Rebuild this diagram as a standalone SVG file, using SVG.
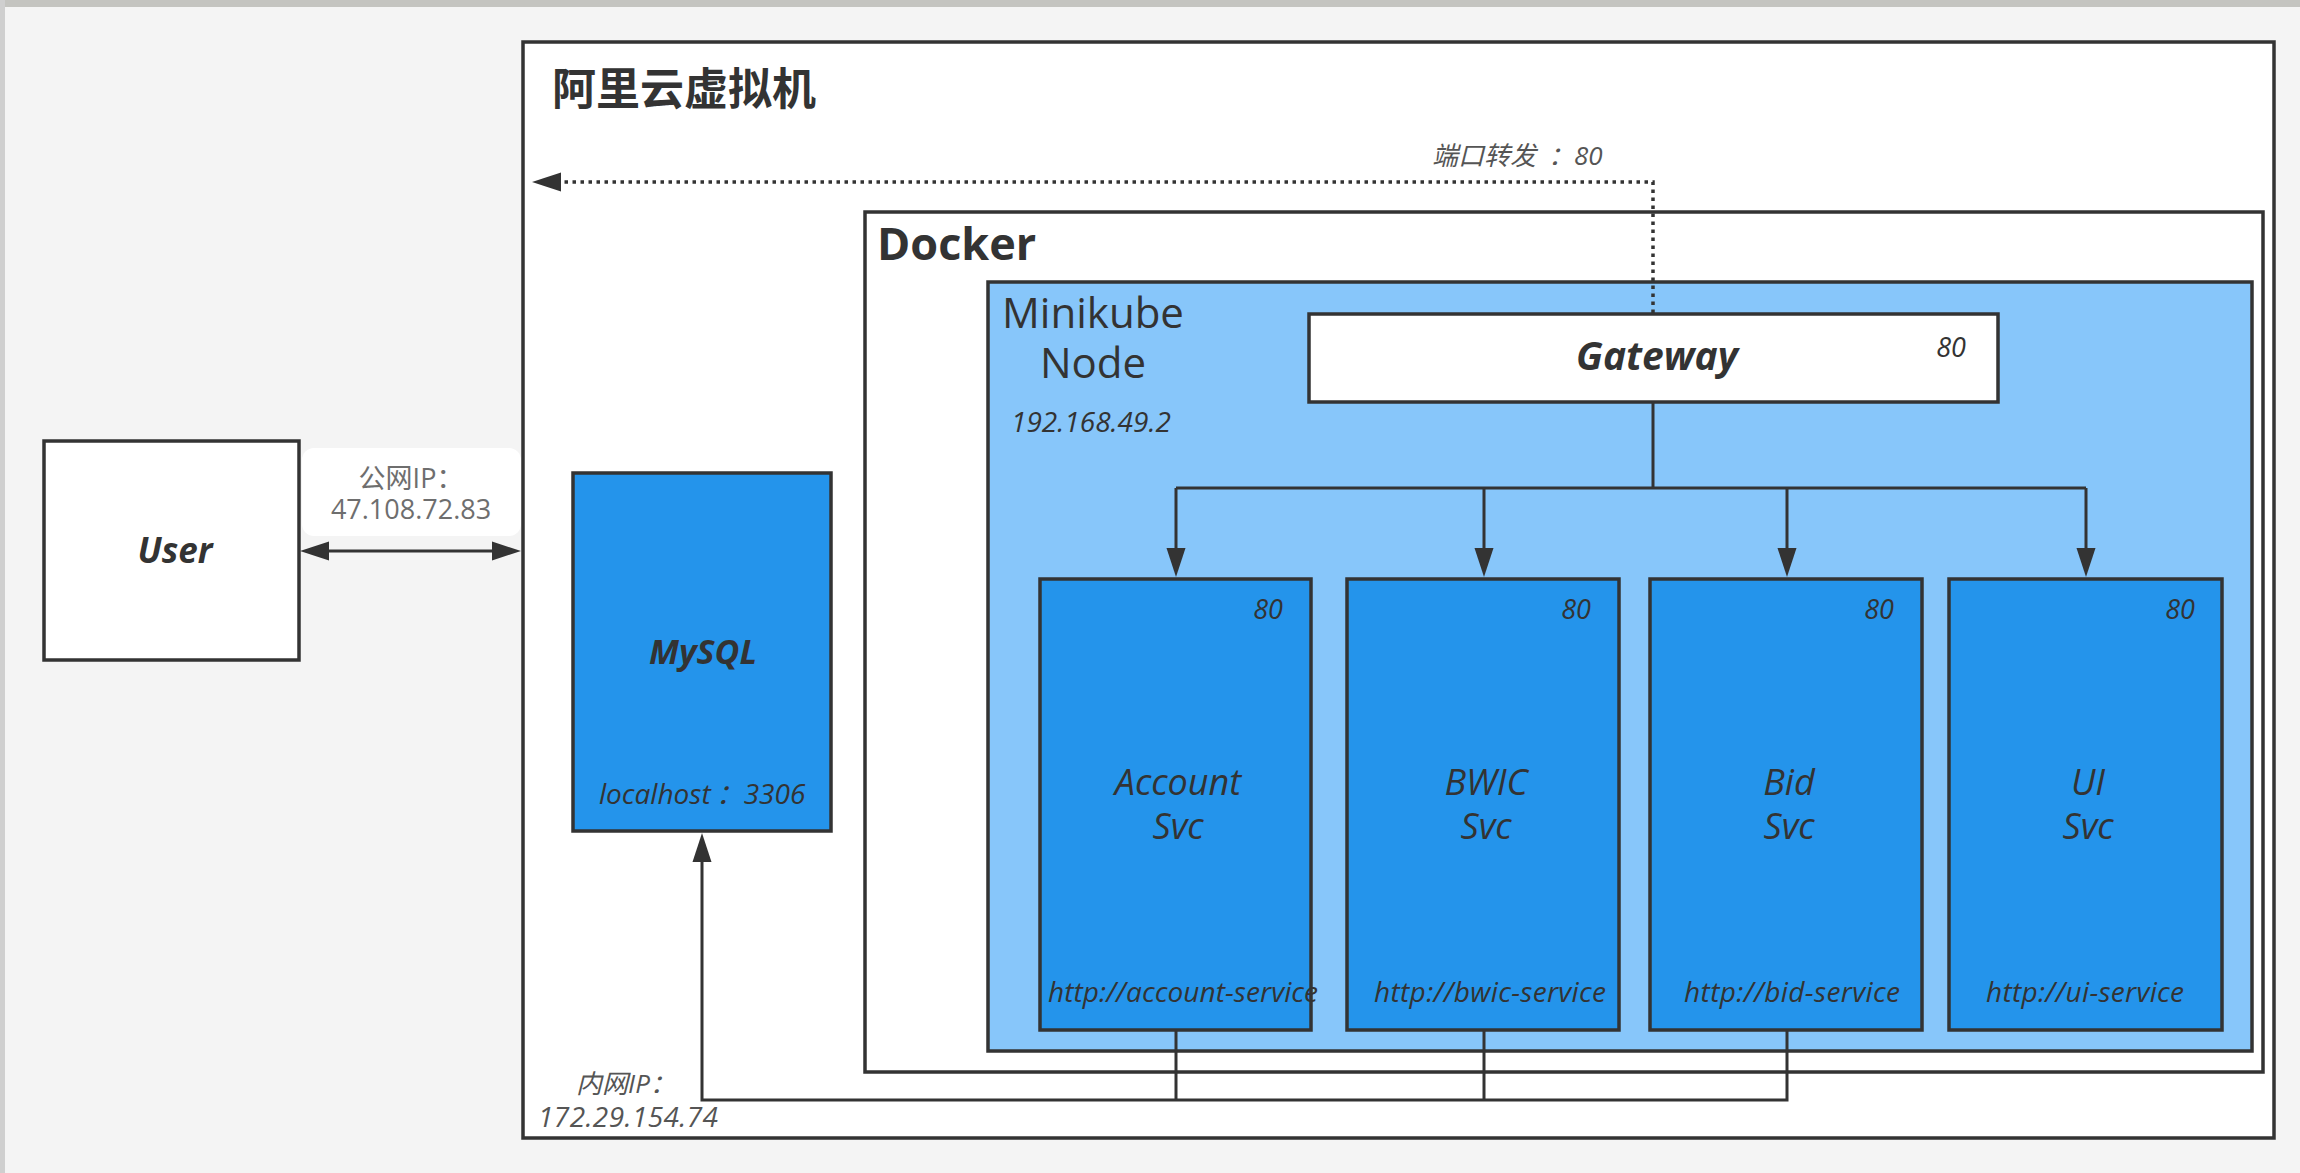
<svg xmlns="http://www.w3.org/2000/svg" width="2300" height="1173" viewBox="0 0 2300 1173">
  <style>
    .box { stroke: #333333; stroke-width: 3.5; }
    .white { fill: #ffffff; }
    .svc { fill: #2494eb; }
    .node { fill: #87c6fa; }
    .line { fill: none; stroke: #333333; stroke-width: 3; }
    .dot { fill: none; stroke: #333333; stroke-width: 3.5; stroke-dasharray: 3.5 4.5; }
    text { font-family: "Open Sans", "Noto Sans CJK SC", sans-serif; fill: #333333; }
    .cjk { font-family: "Noto Sans CJK SC", "Open Sans", sans-serif; }
    .it { font-style: italic; }
    .b { font-weight: bold; }
    .mid { text-anchor: middle; }
    .end { text-anchor: end; }
    .gray { fill: #555555; }
    .lgray { fill: #6e6e6e; }
    .name { font-style: italic; font-size: 36px; text-anchor: middle; }
    .url { font-style: italic; font-size: 28px; text-anchor: middle; }
    .port { font-style: italic; font-size: 27px; text-anchor: end; }
  </style>
  <defs>
    <marker id="arr" markerUnits="userSpaceOnUse" markerWidth="30" markerHeight="20" refX="0" refY="9.5" orient="auto-start-reverse" viewBox="0 0 30 19">
      <path d="M0,0 L29,9.5 L0,19 Z" fill="#333333"/>
    </marker>
  </defs>

  <!-- background -->
  <rect x="0" y="0" width="2300" height="1173" fill="#f4f4f4"/>
  <rect x="0" y="0" width="2300" height="7" fill="#c4c4c0"/>
  <rect x="0" y="0" width="5" height="1173" fill="#cfcfcf"/>

  <g id="aliyun-vm">
    <rect class="box white" x="523" y="42" width="1751" height="1096"/>
    <text class="cjk b" x="552" y="105" font-size="44">阿里云虚拟机</text>
  </g>

  <g id="docker">
    <rect class="box white" x="865" y="212" width="1398" height="860"/>
    <text class="b" x="877" y="260" font-size="45">Docker</text>
  </g>

  <g id="minikube-node">
    <rect class="box node" x="988" y="282" width="1264" height="769"/>
    <text class="mid" font-size="42"><tspan x="1093" y="328">Minikube</tspan><tspan x="1093" y="378">Node</tspan></text>
    <text class="it" x="1011" y="432" font-size="28">192.168.49.2</text>
  </g>

  <g id="gateway">
    <rect class="box white" x="1309" y="314" width="689" height="88"/>
    <text class="b it mid" x="1657" y="370" font-size="39">Gateway</text>
    <text class="port" x="1966" y="357">80</text>
  </g>

  <g id="account-svc">
    <rect class="box svc" x="1040" y="579" width="271" height="451"/>
    <text class="port" x="1283" y="619">80</text>
    <text class="name"><tspan x="1178" y="795">Account</tspan><tspan x="1178" y="839">Svc</tspan></text>
    <text class="url" x="1183" y="1002" textLength="270">http://account-service</text>
  </g>

  <g id="bwic-svc">
    <rect class="box svc" x="1347" y="579" width="272" height="451"/>
    <text class="port" x="1591" y="619">80</text>
    <text class="name"><tspan x="1486" y="795">BWIC</tspan><tspan x="1486" y="839">Svc</tspan></text>
    <text class="url" x="1490" y="1002" textLength="232">http://bwic-service</text>
  </g>

  <g id="bid-svc">
    <rect class="box svc" x="1650" y="579" width="272" height="451"/>
    <text class="port" x="1894" y="619">80</text>
    <text class="name"><tspan x="1789" y="795">Bid</tspan><tspan x="1789" y="839">Svc</tspan></text>
    <text class="url" x="1792" y="1002" textLength="216">http://bid-service</text>
  </g>

  <g id="ui-svc">
    <rect class="box svc" x="1949" y="579" width="273" height="451"/>
    <text class="port" x="2195" y="619">80</text>
    <text class="name"><tspan x="2088" y="795">UI</tspan><tspan x="2088" y="839">Svc</tspan></text>
    <text class="url" x="2085" y="1002" textLength="198">http://ui-service</text>
  </g>

  <g id="mysql">
    <rect class="box svc" x="573" y="473" width="258" height="358"/>
    <text class="b it mid" x="703" y="664" font-size="34">MySQL</text>
    <text class="it" x="599" y="804" font-size="28">localhost<tspan dx="5">：</tspan>3306</text>
  </g>

  <g id="user">
    <rect class="box white" x="44" y="441" width="255" height="219"/>
    <text class="b it mid" x="175" y="563" font-size="35">User</text>
  </g>

  <g id="connectors">
    <!-- user <-> vm -->
    <rect x="302" y="448" width="219" height="88" rx="12" fill="#ffffff"/>
    <text class="mid lgray" font-size="27"><tspan x="411" y="488">公网IP：</tspan><tspan x="411" y="519">47.108.72.83</tspan></text>
    <path class="line" d="M329,551 L492,551" marker-start="url(#arr)" marker-end="url(#arr)"/>

    <!-- port forwarding -->
    <path class="dot" d="M1653,313 L1653,182 L561,182" marker-end="url(#arr)"/>
    <text class="it gray" x="1432" y="165" font-size="26">端口转发<tspan dx="12">：</tspan>80</text>

    <!-- gateway to services -->
    <path class="line" d="M1653,402 L1653,488"/>
    <path class="line" d="M1176,488 L2086,488"/>
    <path class="line" d="M1176,488 L1176,548" marker-end="url(#arr)"/>
    <path class="line" d="M1484,488 L1484,548" marker-end="url(#arr)"/>
    <path class="line" d="M1787,488 L1787,548" marker-end="url(#arr)"/>
    <path class="line" d="M2086,488 L2086,548" marker-end="url(#arr)"/>

    <!-- services to mysql -->
    <path class="line" d="M1176,1031 L1176,1100"/>
    <path class="line" d="M1484,1031 L1484,1100"/>
    <path class="line" d="M1787,1031 L1787,1100 L702,1100 L702,862" marker-end="url(#arr)"/>
    <text class="it mid gray"><tspan x="626" y="1093" font-size="26">内网IP：</tspan><tspan x="628" y="1127" font-size="28" textLength="180">172.29.154.74</tspan></text>
  </g>
</svg>
